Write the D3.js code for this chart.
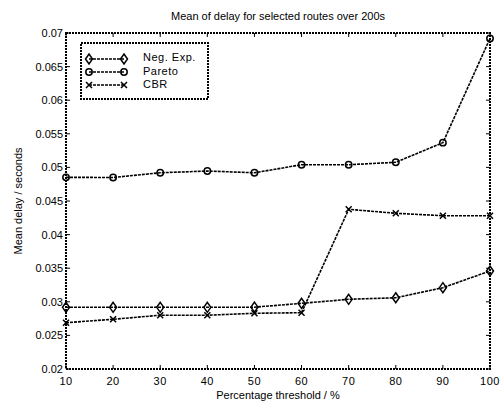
<!DOCTYPE html>
<html><head><meta charset="utf-8">
<script src="https://cdn.jsdelivr.net/npm/d3@7"></script>
<style>body{margin:0;background:#fff}svg{display:block}text{font-family:"Liberation Sans",Arial,sans-serif;fill:#000}</style>
</head><body><svg id="c" width="500" height="403"></svg>
<script>
const thresholds = [10,20,30,40,50,60,70,80,90,100];
const negExp = [0.02918,0.02918,0.02918,0.02918,0.02920,0.02977,0.03037,0.03060,0.03210,0.03458];
const pareto = [0.04852,0.04850,0.04920,0.04946,0.04920,0.05040,0.05040,0.05076,0.05368,0.06920];
const cbr    = [0.02689,0.02740,0.02800,0.02800,0.02829,0.02838,0.04376,0.04317,0.04281,0.04281];
const xTicks = [10,20,30,40,50,60,70,80,90,100];
const yTicks = [0.02,0.025,0.03,0.035,0.04,0.045,0.05,0.055,0.06,0.065,0.07];
const seriesNames = ["Neg. Exp.","Pareto","CBR"];
const markers = ["diamond","circle","cross"];

const L=66,R=490,T=33,B=369;
const svg=d3.select("#c");
const x=d3.scaleLinear().domain([10,100]).range([L,R]);
const y=d3.scaleLinear().domain([0.02,0.07]).range([B,T]);
const dash="3,1";

const g=svg.append("g");
xTicks.forEach(t=>{
  g.append("line").attr("x1",x(t)).attr("x2",x(t)).attr("y1",B).attr("y2",B-4).attr("stroke","#000");
  g.append("line").attr("x1",x(t)).attr("x2",x(t)).attr("y1",T).attr("y2",T+4).attr("stroke","#000");
  g.append("text").attr("x",x(t)).attr("y",B+16).attr("text-anchor","middle").attr("font-size",11).attr("letter-spacing","0.5").text(t);
});
yTicks.forEach(t=>{
  g.append("line").attr("x1",L).attr("x2",L+4).attr("y1",y(t)).attr("y2",y(t)).attr("stroke","#000");
  g.append("line").attr("x1",R).attr("x2",R-4).attr("y1",y(t)).attr("y2",y(t)).attr("stroke","#000");
  g.append("text").attr("x",L-3).attr("y",y(t)+4).attr("text-anchor","end").attr("font-size",11).text(d3.format("")(t));
});
svg.append("rect").attr("x",L).attr("y",T).attr("width",R-L).attr("height",B-T)
  .attr("fill","none").attr("stroke","#000").attr("stroke-width",2).attr("stroke-dasharray","2,1");

function drawMarker(sel,type,cx,cy){
  if(type==="diamond"){
    sel.append("path").attr("d",`M${cx},${cy-5}L${cx+3.5},${cy}L${cx},${cy+5}L${cx-3.5},${cy}Z`)
      .attr("fill","none").attr("stroke","#000").attr("stroke-width",1.5);
  } else if(type==="circle"){
    sel.append("circle").attr("cx",cx).attr("cy",cy).attr("r",3.2)
      .attr("fill","none").attr("stroke","#000").attr("stroke-width",1.5);
  } else {
    sel.append("path").attr("d",`M${cx-3},${cy-3}L${cx+3},${cy+3}M${cx-3},${cy+3}L${cx+3},${cy-3}`)
      .attr("stroke","#000").attr("stroke-width",1.5);
  }
}

const allSeries=[negExp,pareto,cbr];
const line=d3.line().x((d,i)=>x(thresholds[i])).y(d=>y(d));
allSeries.forEach((s,k)=>{
  svg.append("path").datum(s).attr("d",line).attr("fill","none").attr("stroke","#000")
    .attr("stroke-width",1.6).attr("stroke-dasharray",dash);
  const mg=svg.append("g");
  s.forEach((v,i)=>drawMarker(mg,markers[k],x(thresholds[i]),y(v)));
});

const lg=svg.append("g");
lg.append("rect").attr("x",81).attr("y",43).attr("width",127).attr("height",56)
  .attr("fill","#fff").attr("stroke","#000").attr("stroke-width",2).attr("stroke-dasharray","2,1");
const ly=[59,72,85];
const ty=[61,75,88];
seriesNames.forEach((n,k)=>{
  lg.append("line").attr("x1",89).attr("x2",124).attr("y1",ly[k]).attr("y2",ly[k])
    .attr("stroke","#000").attr("stroke-width",1.6).attr("stroke-dasharray",dash);
  drawMarker(lg,markers[k],89,ly[k]);
  drawMarker(lg,markers[k],124,ly[k]);
  lg.append("text").attr("x",143).attr("y",ty[k]).attr("font-size",11).attr("letter-spacing","0.5").text(n);
});

svg.append("text").attr("x",(L+R)/2).attr("y",20).attr("text-anchor","middle").attr("font-size",11).text("Mean of delay for selected routes over 200s");
svg.append("text").attr("x",(L+R)/2).attr("y",399).attr("text-anchor","middle").attr("font-size",11).text("Percentage threshold / %");
svg.append("text").attr("transform",`translate(22,${(T+B)/2}) rotate(-90)`).attr("text-anchor","middle").attr("font-size",11).text("Mean delay / seconds");
</script></body></html>
